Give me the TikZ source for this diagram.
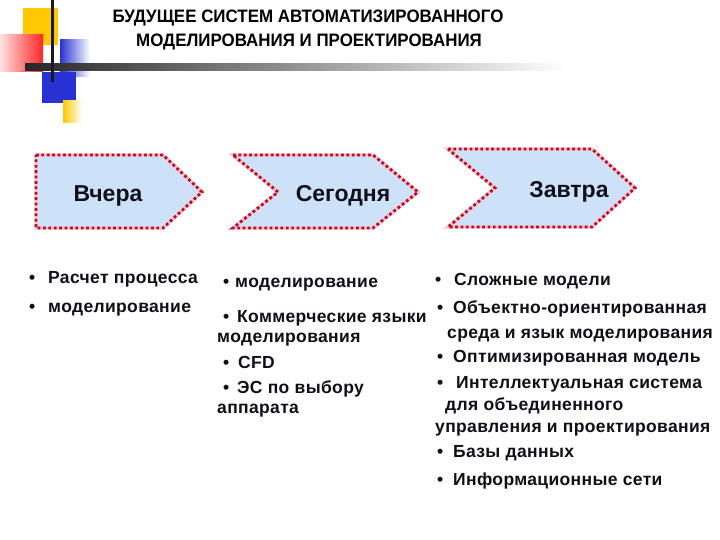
\documentclass[tikz,border=0pt]{standalone}
\usepackage{fontspec}
\setmainfont{Liberation Sans}
\newfontfamily\itemfont[LetterSpace=2]{Liberation Sans}
\usetikzlibrary{calc}
\definecolor{boxfill}{RGB}{205,226,248}
\definecolor{dotred}{RGB}{185,15,40}
\definecolor{halo}{RGB}{250,195,205}
\definecolor{gold}{RGB}{255,200,0}
\definecolor{deepblue}{RGB}{40,50,210}
\definecolor{txt}{RGB}{15,15,25}
\newcommand{\bl}[1]{\makebox[#1][l]{•}}
\tikzset{
  arrowbox/.style={fill=boxfill, draw=halo, line width=3.4pt, line join=miter},
  arrowdots/.style={draw=dotred, line width=2.8pt, dash pattern=on 2.8pt off 2.6pt},
  boxlabel/.style={font=\bfseries\fontsize{23}{26}\selectfont, text=txt, inner sep=0pt, anchor=base},
  item/.style={font=\itemfont\bfseries\fontsize{17.5}{20}\selectfont, text=txt, inner sep=0pt, anchor=base west},
  ttl/.style={font=\bfseries\fontsize{18}{21}\selectfont, text=black, inner sep=0pt, anchor=base},
}
\begin{document}
\begin{tikzpicture}[x=1pt,y=-1pt]
\useasboundingbox (0,0) rectangle (720,540);
\fill[white] (0,0) rectangle (720,540);
% decoration
\fill[gold] (23,8) rectangle (58,45);
\shade[left color=red!12, right color=red!85] (0,35) rectangle (43,72);
\shade[left color=deepblue, right color=white] (60,40) rectangle (90,77);
\fill[deepblue] (42,72) rectangle (76,103);
\shade[left color=gold, right color=white] (63,101) rectangle (82,123);
\shade[left color=black!85, right color=white] (25,64) rectangle (565,71);
\fill[black!90] (51,0) rectangle (54,82);
% title
\node[ttl] (t1) at (308,23) {\scalebox{0.94}[1]{БУДУЩЕЕ СИСТЕМ АВТОМАТИЗИРОВАННОГО}};
\node[ttl] (t2) at (309,47) {\scalebox{0.94}[1]{МОДЕЛИРОВАНИЯ И ПРОЕКТИРОВАНИЯ}};
% arrow boxes
\path[arrowbox] (36,155) -- (163,155) -- (202,192) -- (163,228) -- (36,228) -- cycle;
\path[arrowdots] (36,155) -- (163,155) -- (202,192) -- (163,228) -- (36,228) -- cycle;
\path[arrowbox] (233,155) -- (373,155) -- (418,192) -- (373,228) -- (233,228) -- (278,192) -- cycle;
\path[arrowdots] (233,155) -- (373,155) -- (418,192) -- (373,228) -- (233,228) -- (278,192) -- cycle;
\path[arrowbox] (448,149) -- (592,149) -- (635,188) -- (592,227) -- (448,227) -- (495,188) -- cycle;
\path[arrowdots] (448,149) -- (592,149) -- (635,188) -- (592,227) -- (448,227) -- (495,188) -- cycle;
\node[boxlabel] (b1) at (108,202) {Вчера};
\node[boxlabel] (b2) at (343,202) {Сегодня};
\node[boxlabel] (b3) at (569,197) {Завтра};
% column 1
\node[item] (a1) at (29,283) {\bl{19pt}Расчет процесса};
\node[item] (a2) at (29,312) {\bl{19pt}моделирование};
% column 2
\node[item] (c1) at (223,287) {\bl{12pt}моделирование};
\node[item] (c2) at (223,322) {\bl{14pt}Коммерческие языки};
\node[item] (c3) at (217,342) {моделирования};
\node[item] (c4) at (223,368) {\bl{15pt}CFD};
\node[item] (c5) at (223,393) {\bl{14pt}ЭС по выбору};
\node[item] (c6) at (217,413) {аппарата};
% column 3
\node[item] (d1) at (435,285) {\bl{19pt}Сложные модели};
\node[item] (d2) at (437,313) {\bl{16pt}Объектно-ориентированная};
\node[item] (d3) at (447,338) {среда и язык моделирования};
\node[item] (d4) at (437,362) {\bl{16pt}Оптимизированная модель};
\node[item] (d5) at (437,388) {\bl{19pt}Интеллектуальная система};
\node[item] (d6) at (445,410) {для объединенного};
\node[item] (d7) at (435,432) {управления и проектирования};
\node[item] (d8) at (437,457) {\bl{16pt}Базы данных};
\node[item] (d9) at (437,485) {\bl{16pt}Информационные сети};
\end{tikzpicture}
\end{document}
